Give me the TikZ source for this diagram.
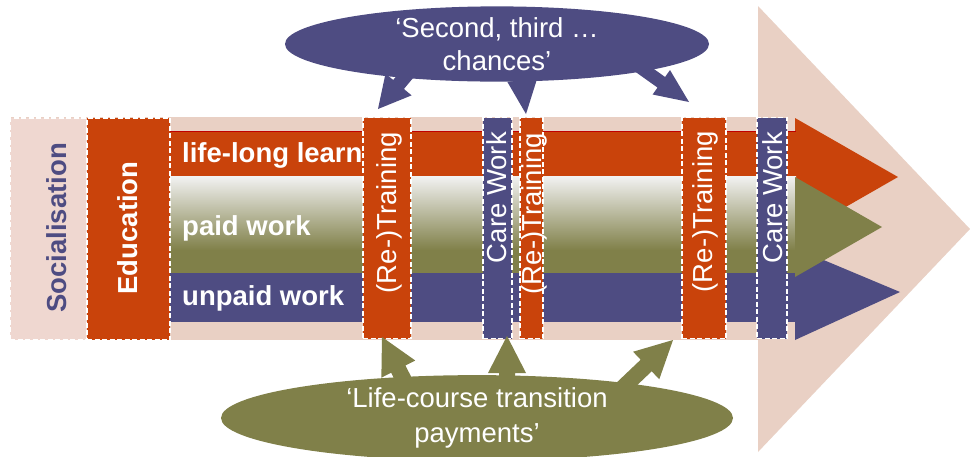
\documentclass[tikz,border=0pt]{standalone}
\usepackage{fontspec}
\setmainfont{Liberation Sans}
\usetikzlibrary{shapes.geometric,calc}
\definecolor{orangeC}{HTML}{C9430B}
\definecolor{purpC}{HTML}{4E4C82}
\definecolor{oliveC}{HTML}{808049}
\definecolor{pinkC}{HTML}{E9D0C4}
\definecolor{socC}{HTML}{EFD7D0}
\definecolor{redC}{HTML}{C00000}
\newcommand\fatarrow[6]{%
  \coordinate (fa-h) at ($(#2)!#6!(#1)$);
  \fill[#3] ($(#1)!#4!90:(#2)$) -- ($(fa-h)!#4!90:(#2)$) -- ($(fa-h)!#5!90:(#2)$) -- (#2)
    -- ($(fa-h)!#5!-90:(#2)$) -- ($(fa-h)!#4!-90:(#2)$) -- ($(#1)!#4!-90:(#2)$) -- cycle;}
\tikzset{
  bigtxt/.style={font=\fontsize{27.5}{33}\selectfont},
  vbox/.style={draw=white, dash pattern=on 5pt off 2.5pt, line width=1.8pt, minimum height=221pt, inner sep=0pt, rectangle},
  vtxt/.style={rotate=90, inner sep=0pt, text=white, bigtxt},
  bandtxt/.style={anchor=west, inner sep=0pt, text=white, bigtxt, font=\fontsize{27.5}{33}\selectfont\bfseries},
}
\begin{document}
\begin{tikzpicture}[x=1pt,y=-1pt]
\useasboundingbox (0,0) rectangle (970,456);
\fill[white] (0,0) rectangle (970,456);
% background
\fill[pinkC] (758,6) -- (970,229) -- (758,452) -- cycle;
\fill[pinkC] (10,117) rectangle (800,340);
% orange band
\fill[orangeC] (170,131) rectangle (796,176);
\fill[orangeC] (795,118) -- (898,177) -- (795,236) -- cycle;
\draw[redC, line width=1.6pt] (170,131.5) -- (796,131.5);
% purple band
\fill[purpC] (170,273) rectangle (796,322);
\fill[purpC] (795,248) -- (900,292) -- (795,340) -- cycle;
% olive band
\shade[top color=white!95!black, bottom color=oliveC] (170,176) rectangle (796,250);
\fill[oliveC] (170,249.5) rectangle (796,273);
\fill[oliveC] (795,177) -- (882,227) -- (795,277) -- cycle;
% band texts
\node[bandtxt] (lll) at (182,155) {life-long learn};
\node[bandtxt] (pw) at (182,228) {paid work};
\node[bandtxt] (uw) at (182,298) {unpaid work};
% left boxes
\node[vbox, fill=socC, minimum width=77pt, minimum height=222pt] (soc) at (48.5,229) {};
\node[vtxt, text=purpC, font=\fontsize{27.5}{33}\selectfont\bfseries] at (57,228) {Socialisation};
\node[vbox, fill=orangeC, minimum width=83pt, minimum height=222pt] (edu) at (128.5,229) {};
\node[vtxt, font=\fontsize{27.5}{33}\selectfont\bfseries] at (128,228) {Education};
% vertical boxes
\node[vbox, fill=orangeC, minimum width=48pt] (rt1) at (387,228) {};
\node[vbox, fill=purpC, minimum width=29pt] (cw1) at (497.5,228) {};
\node[vbox, fill=orangeC, minimum width=23pt] (rt2) at (531.5,228) {};
\node[vbox, fill=orangeC, minimum width=44pt] (rt3) at (704,228) {};
\node[vbox, fill=purpC, minimum width=30pt] (cw2) at (772,228) {};
\node[vtxt, anchor=east] at (389,132) {(Re-)Training};
\node[vtxt, anchor=east] at (497,132) {Care Work};
\node[vtxt, anchor=east] at (534.5,133) {(Re-)Training};
\node[vtxt, anchor=east] at (705.5,131) {(Re-)Training};
\node[vtxt, anchor=east] at (773,132) {Care Work};
% top ellipse and arrows
\coordinate (ts1) at (414,66);  \coordinate (tt1) at (378,109);
\coordinate (ts2) at (520,60);  \coordinate (tt2) at (526,114);
\coordinate (ts3) at (630,60);  \coordinate (tt3) at (689,102);
\fatarrow{ts1}{tt1}{purpC}{7pt}{17pt}{32pt}
\fatarrow{ts2}{tt2}{purpC}{7pt}{15pt}{34pt}
\fatarrow{ts3}{tt3}{purpC}{6.5pt}{15pt}{34pt}
\node[ellipse, fill=purpC, minimum width=424pt, minimum height=74pt, inner sep=0pt,
  text=white, align=center, font=\fontsize{27.5}{33}\selectfont] (top) at (497,44)
  {‘Second, third …\\chances’};
% bottom ellipse and arrows
\coordinate (bs1) at (414,400); \coordinate (bt1) at (382,337);
\coordinate (bs2) at (507,400); \coordinate (bt2) at (507,336);
\coordinate (bs3) at (612,398); \coordinate (bt3) at (673,340);
\fatarrow{bs1}{bt1}{oliveC}{8pt}{19pt}{36pt}
\fatarrow{bs2}{bt2}{oliveC}{8pt}{19pt}{37pt}
\fatarrow{bs3}{bt3}{oliveC}{8pt}{19pt}{37pt}
\node[ellipse, fill=oliveC, minimum width=512pt, minimum height=72pt, inner sep=0pt,
  text=white, align=center, font=\fontsize{27.5}{35}\selectfont] (bot) at (477,418)
  {‘Life-course transition\\payments’};
\end{tikzpicture}
\end{document}
